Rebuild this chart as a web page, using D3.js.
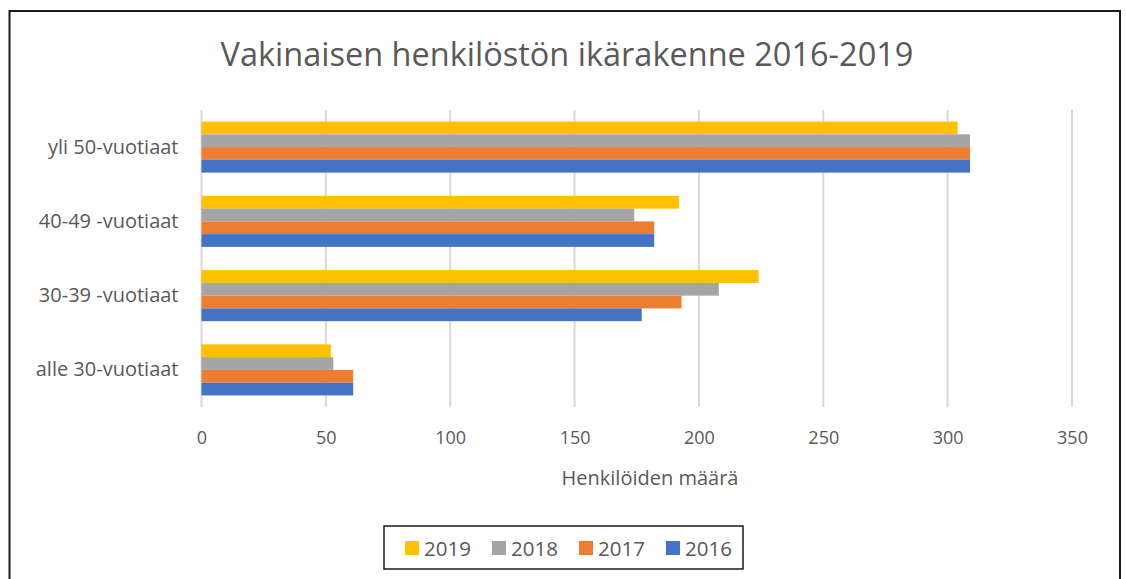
<!DOCTYPE html>
<html lang="fi">
<head>
<meta charset="utf-8">
<title>Vakinaisen henkilöstön ikärakenne 2016-2019</title>
<script src="https://cdn.jsdelivr.net/npm/d3@7"></script>
<style>
  body { margin: 0; background: #fff; }
  text { font-family: "Open Sans", Lato, sans-serif; fill: #595959; }
</style>
</head>
<body>
<script>
// data
var categories = ["yli 50-vuotiaat", "40-49 -vuotiaat", "30-39 -vuotiaat", "alle 30-vuotiaat"];
var years = ["2019", "2018", "2017", "2016"];
var v2019 = [304, 192, 224, 52];
var v2018 = [309, 174, 208, 53];
var v2017 = [309, 182, 193, 61];
var v2016 = [309, 182, 177, 61];
var ticks = [0, 50, 100, 150, 200, 250, 300, 350];
var colors = ["#FFC000", "#A5A5A5", "#ED7D31", "#4472C4"];

var series = [v2019, v2018, v2017, v2016];

var w = 1126, h = 579;
var svg = d3.select("body").append("svg")
  .attr("width", w)
  .attr("height", h);

// outer frame (bottom is cut off in the picture)
svg.append("path")
  .attr("d", "M9.5,590 L9.5,11 L1120,11 L1120,590")
  .attr("fill", "none")
  .attr("stroke", "#1a1a1a")
  .attr("stroke-width", 2);

var x = d3.scaleLinear().domain([0, 350]).range([201.5, 1072]);
var y = d3.scaleBand().domain(categories).range([110, 407])
  .paddingInner(0.313).paddingOuter(0.156);
var ySub = d3.scaleBand().domain(years).range([0, y.bandwidth()]);

// gridlines
svg.selectAll("line.grid").data(ticks)
  .enter().append("line")
  .attr("class", "grid")
  .attr("x1", function(d) { return x(d); })
  .attr("x2", function(d) { return x(d); })
  .attr("y1", 110)
  .attr("y2", 407)
  .attr("stroke", "#D9D9D9")
  .attr("stroke-width", 2);

// bars
var groups = svg.selectAll("g.cat").data(categories)
  .enter().append("g")
  .attr("class", "cat")
  .attr("transform", function(d) { return "translate(0," + y(d) + ")"; });

groups.selectAll("rect")
  .data(function(d, i) {
    return years.map(function(yr, j) { return { year: yr, value: series[j][i], color: colors[j] }; });
  })
  .enter().append("rect")
  .attr("x", x(0))
  .attr("y", function(d) { return ySub(d.year); })
  .attr("width", function(d) { return x(d.value) - x(0); })
  .attr("height", ySub.bandwidth())
  .attr("fill", function(d) { return d.color; });

// x axis labels
var xAxis = d3.axisBottom(x).tickValues(ticks).tickSize(0).tickPadding(0);
var gx = svg.append("g")
  .attr("transform", "translate(0,431)")
  .call(xAxis);
gx.select(".domain").remove();
gx.selectAll("text")
  .attr("font-size", "18px")
  .attr("fill", "#595959")
  .attr("font-family", "\"Open Sans\", sans-serif");

// y axis labels
var yAxis = d3.axisLeft(y).tickSize(0).tickPadding(23);
var gy = svg.append("g")
  .attr("transform", "translate(" + x(0) + ",0)")
  .call(yAxis);
gy.select(".domain").remove();
gy.selectAll("text")
  .attr("font-size", "20px")
  .attr("fill", "#595959")
  .attr("font-family", "\"Open Sans\", sans-serif");

// title
svg.append("text")
  .attr("x", 567)
  .attr("y", 66)
  .attr("text-anchor", "middle")
  .attr("font-size", "32.5px")
  .text("Vakinaisen henkilöstön ikärakenne 2016-2019");

// axis title
svg.append("text")
  .attr("x", 650)
  .attr("y", 485)
  .attr("text-anchor", "middle")
  .attr("font-size", "20px")
  .text("Henkilöiden määrä");

// legend
var legend = svg.append("g");
legend.append("rect")
  .attr("x", 384)
  .attr("y", 526)
  .attr("width", 359)
  .attr("height", 43)
  .attr("fill", "#fff")
  .attr("stroke", "#1a1a1a")
  .attr("stroke-width", 1.5);

var items = legend.selectAll("g.item").data(years)
  .enter().append("g")
  .attr("class", "item")
  .attr("transform", function(d, i) { return "translate(" + (405 + i * 87) + ",541)"; });
items.append("rect")
  .attr("width", 14)
  .attr("height", 14)
  .attr("fill", function(d, i) { return colors[i]; });
items.append("text")
  .attr("x", 19)
  .attr("y", 14.5)
  .attr("font-size", "20.5px")
  .text(function(d) { return d; });
</script>
</body>
</html>
